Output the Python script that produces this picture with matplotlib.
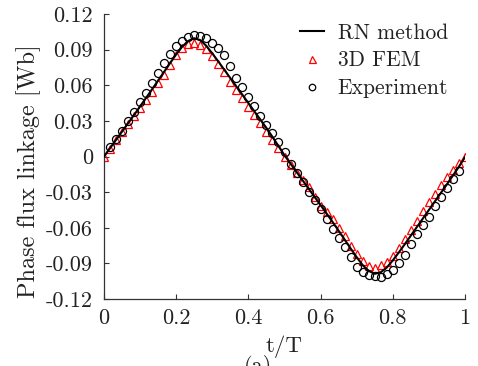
import numpy as np
import matplotlib
matplotlib.use("Agg")
import matplotlib.pyplot as plt

plt.rcParams['font.family'] = 'serif'
plt.rcParams['font.serif'] = ['cmr10']
plt.rcParams['mathtext.fontset'] = 'cm'
plt.rcParams['axes.unicode_minus'] = False
plt.rcParams['axes.formatter.use_mathtext'] = True

# sampling grid: one period split in 60 steps
t_grid = np.linspace(0, 1, 61)

# RN method (line), k = 0..60
rn_flux = [0.0000, 0.0070, 0.0140, 0.0210, 0.0280, 0.0350, 0.0422, 0.0494, 0.0567, 0.0640,
           0.0714, 0.0788, 0.0860, 0.0925, 0.0973, 0.0996, 0.0980, 0.0932, 0.0868, 0.0800,
           0.0730, 0.0660, 0.0590, 0.0520, 0.0450, 0.0380, 0.0310, 0.0240, 0.0165, 0.0088,
           0.0010, -0.0060, -0.0130, -0.0200, -0.0270, -0.0340, -0.0410, -0.0480, -0.0552, -0.0625,
           -0.0700, -0.0775, -0.0848, -0.0915, -0.0963, -0.0988, -0.0975, -0.0935, -0.0875, -0.0808,
           -0.0738, -0.0666, -0.0594, -0.0522, -0.0450, -0.0378, -0.0306, -0.0234, -0.0160, -0.0085,
           -0.0005]

# 3D FEM (triangles), k = 0..60
fem_flux = [0.0000, 0.0065, 0.0135, 0.0203, 0.0272, 0.0340, 0.0408, 0.0477, 0.0546, 0.0615,
            0.0685, 0.0772, 0.0855, 0.0913, 0.0945, 0.0956, 0.0940, 0.0906, 0.0850, 0.0778,
            0.0710, 0.0631, 0.0562, 0.0490, 0.0420, 0.0350, 0.0280, 0.0210, 0.0140, 0.0070,
            0.0000, -0.0070, -0.0140, -0.0200, -0.0260, -0.0340, -0.0415, -0.0470, -0.0530, -0.0600,
            -0.0672, -0.0750, -0.0825, -0.0882, -0.0925, -0.0940, -0.0915, -0.0885, -0.0840, -0.0770,
            -0.0695, -0.0615, -0.0540, -0.0460, -0.0385, -0.0312, -0.0240, -0.0172, -0.0110, -0.0055,
            0.0000]

# Experiment (circles), k = 1..59
exp_flux = [0.0082, 0.0150, 0.0218, 0.0295, 0.0378, 0.0455, 0.0538, 0.0622, 0.0705,
            0.0790, 0.0865, 0.0928, 0.0972, 0.1005, 0.1020, 0.1018, 0.0995, 0.0960, 0.0915,
            0.0852, 0.0758, 0.0665, 0.0585, 0.0505, 0.0425, 0.0340, 0.0262, 0.0195, 0.0125,
            0.0035, -0.0060, -0.0140, -0.0212, -0.0296, -0.0366, -0.0444, -0.0525, -0.0612, -0.0687,
            -0.0765, -0.0847, -0.0928, -0.0970, -0.0996, -0.1010, -0.1018, -0.0990, -0.0955, -0.0900,
            -0.0828, -0.0740, -0.0651, -0.0576, -0.0506, -0.0413, -0.0338, -0.0267, -0.0192, -0.0119]

y_ticks = [-0.12, -0.09, -0.06, -0.03, 0, 0.03, 0.06, 0.09, 0.12]
y_labels = ['-0.12', '-0.09', '-0.06', '-0.03', '0', '0.03', '0.06', '0.09', '0.12']
x_ticks = [0, 0.2, 0.4, 0.6, 0.8, 1]
x_labels = ['0', '0.2', '0.4', '0.6', '0.8', '1']

fs = 16
fig = plt.figure(figsize=(4.78, 3.66), dpi=100)
ax = fig.add_axes([104 / 478, 67 / 366, 361 / 478, 285 / 366])

ax.plot(t_grid, rn_flux, color='black', lw=1.5, label='RN method', zorder=3)
ax.plot(t_grid, fem_flux, ls='none', marker='^', ms=6.3, mfc='none', mec='red',
        mew=0.9, label='3D FEM', zorder=2)
ax.plot(t_grid[1:60], exp_flux, ls='none', marker='o', ms=5.8, mfc='none', mec='black',
        mew=0.9, label='Experiment', zorder=2)

ax.set_xlim(0, 1)
ax.set_ylim(-0.12, 0.12)
ax.set_xticks(x_ticks)
ax.set_xticklabels(x_labels)
ax.set_yticks(y_ticks)
ax.set_yticklabels(y_labels)
ax.tick_params(direction='in', length=3.5, width=0.8, labelsize=fs, colors='#333333',
               labelcolor='#222222')
ax.tick_params(axis='x', pad=7)
ax.tick_params(axis='y', pad=8)
for side in ['top', 'right']:
    ax.spines[side].set_visible(False)
for side in ['left', 'bottom']:
    ax.spines[side].set_color('#333333')
    ax.spines[side].set_linewidth(0.9)

ax.set_xlabel('t/T', fontsize=16.5, color='#222222', labelpad=5)
ax.set_ylabel('Phase flux linkage [Wb]', fontsize=17.5, color='#222222')
ax.yaxis.set_label_coords(-0.175, 0.45)

leg = ax.legend(loc='upper right', frameon=False, fontsize=15.5, handlelength=1.1,
                handletextpad=0.65, labelspacing=0.38, markerscale=0.8,
                bbox_to_anchor=(0.977, 0.998), borderaxespad=0)
for txt in leg.get_texts():
    txt.set_color('#222222')

fig.text(258 / 478, 1 - 355 / 366, '(a)', fontsize=fs, ha='center', va='top',
         color='#222222')

fig.savefig('out.png', dpi=100)
